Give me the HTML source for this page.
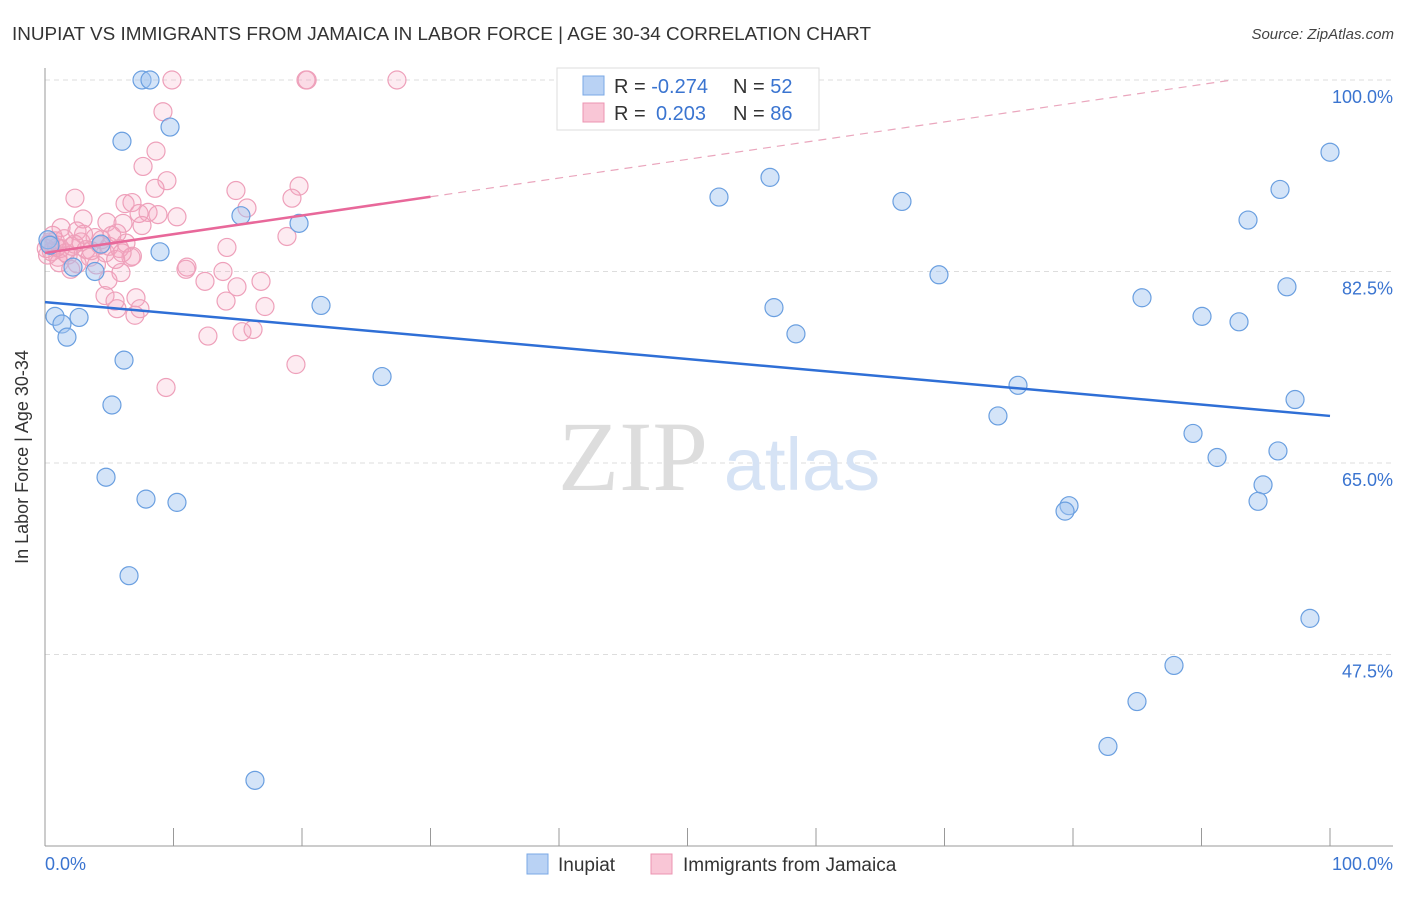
<!DOCTYPE html>
<html><head><meta charset="utf-8"><style>
body{margin:0;background:#fff;font-family:"Liberation Sans",sans-serif;}
svg text{font-family:"Liberation Sans",sans-serif;}
</style></head><body>
<svg id="chart" width="1406" height="892">
<text x="12" y="40" font-size="18.9" fill="#333">INUPIAT VS IMMIGRANTS FROM JAMAICA IN LABOR FORCE | AGE 30-34 CORRELATION CHART</text>
<text x="1394" y="39" font-size="15" fill="#444" text-anchor="end" font-style="italic">Source: ZipAtlas.com</text>
<g id="grid"></g>
<text x="633" y="490" font-size="100" fill="#ddd" text-anchor="middle" style="font-family:'Liberation Serif',serif">ZIP</text>
<text x="802" y="490" font-size="74" fill="#d6e3f5" text-anchor="middle">atlas</text>
<g id="pts"></g>
<g id="lines"></g>
<text x="28" y="457" font-size="18" fill="#333" text-anchor="middle" transform="rotate(-90 28 457)">In Labor Force | Age 30-34</text>
<g>
<rect x="557" y="68" width="262" height="62" fill="#fff" stroke="#ddd"/>
<rect x="583" y="76" width="21" height="19" fill="#b9d2f4" stroke="#7aa8e6"/>
<rect x="583" y="103" width="21" height="19" fill="#f9c6d6" stroke="#ec94b2"/>
<text x="614" y="93" font-size="20" fill="#333">R = <tspan fill="#3a74d0">-0.274</tspan></text>
<text x="733" y="93" font-size="20" fill="#333">N = <tspan fill="#3a74d0">52</tspan></text>
<text x="614" y="120" font-size="20" fill="#333">R = <tspan fill="#3a74d0" x="656">0.203</tspan></text>
<text x="733" y="120" font-size="20" fill="#333">N = <tspan fill="#3a74d0">86</tspan></text>
</g>
<g>
<rect x="527" y="854" width="21" height="20" fill="#b9d2f4" stroke="#7aa8e6"/>
<text x="558" y="871" font-size="19" fill="#333">Inupiat</text>
<rect x="651" y="854" width="21" height="20" fill="#f9c6d6" stroke="#ec94b2"/>
<text x="683" y="871" font-size="19" fill="#333">Immigrants from Jamaica</text>
</g>
</svg>
<script>
const xTicks=[0,10,20,30,40,50,60,70,80,90,100];
const yTicks=[100,82.5,65,47.5];
const yTickLabels=["100.0%","82.5%","65.0%","47.5%"];
const blueX=[7.55,8.17,9.73,5.99,15.25,19.77,8.95,4.36,3.89,2.18,0.78,1.32,1.71,2.65,6.15,5.21,21.48,26.23,4.75,7.86,10.27,6.54,16.34,52.45,56.42,66.69,69.57,56.73,58.44,85.37,90.04,92.92,96.65,96.11,93.62,100,75.72,74.16,89.34,91.21,95.95,97.28,94.79,94.4,79.69,79.38,98.44,87.86,84.98,82.72,0.23,0.39];
const blueY=[100,100,95.7,94.4,87.6,86.9,84.3,85.0,82.5,82.9,78.4,77.7,76.5,78.3,74.4,70.3,79.4,72.9,63.7,61.7,61.4,54.7,36.0,89.3,91.1,88.9,82.2,79.2,76.8,80.1,78.4,77.9,81.1,90.0,87.2,93.4,72.1,69.3,67.7,65.5,66.1,70.8,63.0,61.5,61.1,60.6,50.8,46.5,43.2,39.1,85.4,84.9];
const pinkX=[9.88,20.31,20.4,27.39,9.18,8.64,7.63,9.49,8.56,2.33,14.86,19.77,19.22,15.72,6.23,6.77,8.02,8.79,10.27,7.32,7.55,18.83,14.16,11.05,10.97,12.45,13.85,14.94,16.81,14.09,17.12,12.68,15.33,16.19,19.53,9.42,4.67,5.45,7.08,5.6,7.0,7.39,6.69,5.91,4.9,1.25,2.96,4.82,6.07,5.6,2.49,
0.3,0.5,0.8,1.0,1.2,1.5,1.8,2.1,2.5,2.8,3.2,3.5,3.9,4.3,4.7,5.2,5.8,6.3,6.8,0.2,0.6,1.1,2.0,3.0,4.0,0.1,0.4,1.6,2.3,3.6,4.4,5.0,5.5,6.0,0.9];
const pinkY=[100,100,100,100,97.1,93.5,92.1,90.8,90.1,89.2,89.9,90.3,89.2,88.3,88.7,88.8,87.9,87.7,87.5,87.8,86.7,85.7,84.7,82.9,82.7,81.6,82.5,81.1,81.6,79.8,79.3,76.6,77.0,77.2,74.0,71.9,80.3,79.8,80.1,79.1,78.5,79.1,83.8,82.4,81.7,86.5,87.3,87.0,86.9,86.0,86.2,
85.0,84.3,85.3,83.8,84.6,85.5,84.0,84.8,83.2,85.2,84.5,83.8,85.6,84.9,84.2,85.8,84.6,85.1,83.9,84.0,85.8,83.3,82.7,85.9,83.1,84.6,85.2,84.2,85.0,84.4,85.4,84.8,83.6,84.2,84.7];
const blueTrend=[79.7,69.3];
const pinkTrend=[84.2,101.3];
const pinkSolidEnd=30;
const NS="http://www.w3.org/2000/svg";
const X=v=>45+v*12.85, Y=v=>846-(v-30)*10.943;
function mk(tag,attrs,parent){const e=document.createElementNS(NS,tag);for(const k in attrs)e.setAttribute(k,attrs[k]);parent.appendChild(e);return e;}
const grid=document.getElementById('grid');
yTicks.forEach((t,i)=>{
 const l=mk('line',{x1:45,x2:1393,y1:Y(t),y2:Y(t),stroke:'#ddd','stroke-dasharray':'5,4'},grid);
 
 
 const tx=mk('text',{x:1393,y:Y(t)+23,'font-size':18,fill:'#3a74d0','text-anchor':'end'},grid);
 tx.textContent=yTickLabels[i];
 
 
});
mk('line',{x1:45,x2:45,y1:68,y2:846,stroke:'#999'},grid);
const xa=mk('line',{x1:45,x2:1393,y1:846,y2:846,stroke:'#999'},grid);


xTicks.forEach(t=>{
 const l=mk('line',{x1:X(t),x2:X(t),y1:828,y2:846,stroke:'#999'},grid);
 
 
});
const xl0=mk('text',{x:45,y:870,'font-size':18,fill:'#3a74d0'},grid);xl0.textContent='0.0%';


const xl1=mk('text',{x:1393,y:870,'font-size':18,fill:'#3a74d0','text-anchor':'end'},grid);xl1.textContent='100.0%';


const pts=document.getElementById('pts');
pinkX.forEach((x,i)=>{const c=mk('circle',{cx:X(x),cy:Y(pinkY[i]),r:9,fill:'rgba(244,165,192,0.22)',stroke:'#eea0ba','stroke-width':1.2},pts);
 
 });
blueX.forEach((x,i)=>{const c=mk('circle',{cx:X(x),cy:Y(blueY[i]),r:9,fill:'rgba(160,196,240,0.45)',stroke:'#6a9fe0','stroke-width':1.2},pts);
 
 });
const lines=document.getElementById('lines');
const bl=mk('line',{x1:X(0),y1:Y(blueTrend[0]),x2:X(100),y2:Y(blueTrend[1]),stroke:'#2f6fd6','stroke-width':2.5},lines);


const pAt=v=>pinkTrend[0]+(pinkTrend[1]-pinkTrend[0])*v/100;
const ps=mk('line',{x1:X(0),y1:Y(pAt(0)),x2:X(pinkSolidEnd),y2:Y(pAt(pinkSolidEnd)),stroke:'#e8689a','stroke-width':2.5},lines);


const pEnd=(100-pinkTrend[0])/(pinkTrend[1]-pinkTrend[0])*100;
const pd=mk('line',{x1:X(pinkSolidEnd),y1:Y(pAt(pinkSolidEnd)),x2:X(Math.min(100,pEnd)),y2:Y(pAt(Math.min(100,pEnd))),stroke:'#eaa6bd','stroke-width':1.2,'stroke-dasharray':'8,6'},lines);


</script>
</body></html>
